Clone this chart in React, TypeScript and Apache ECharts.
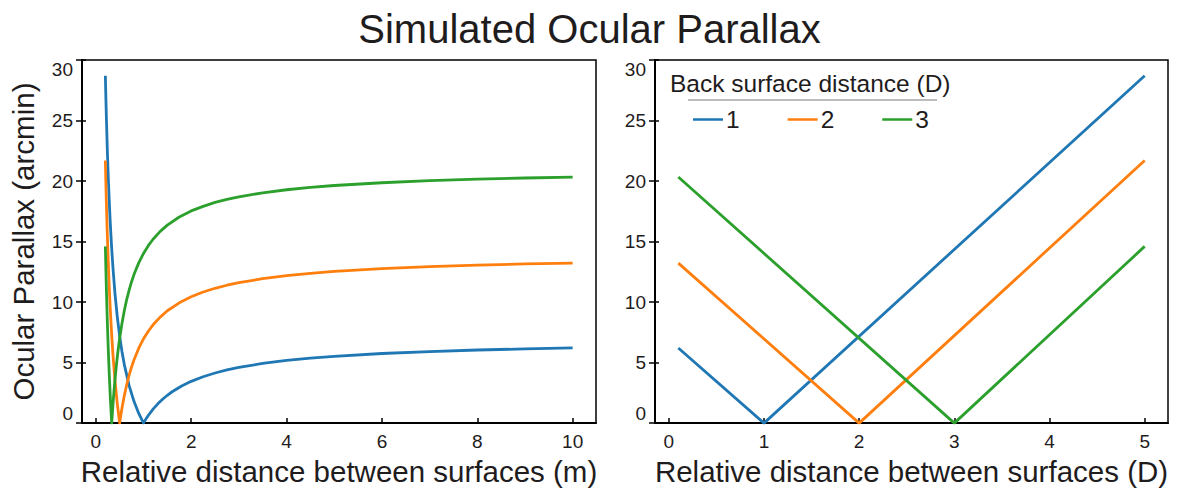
import React, { useEffect, useRef } from "react";
import * as echarts from "echarts";

const FONT = "'Liberation Sans', Arial, Helvetica, sans-serif";
const TEXT = "#1f1c1d";
const COLORS = ["#1f77b4", "#ff7f0e", "#2ca02c"];

const chartTitle = "Simulated Ocular Parallax";
const yAxisTitle = "Ocular Parallax (arcmin)";
const xTitleMeters = "Relative distance between surfaces (m)";
const xTitleDiopters = "Relative distance between surfaces (D)";
const legendTitle = "Back surface distance (D)";
const backSurfaces = ["1", "2", "3"];

const yTicks = [0, 5, 10, 15, 20, 25, 30];
const metersTicks = [0, 2, 4, 6, 8, 10];
const diopterTicks = [0, 1, 2, 3, 4, 5];

// Left panel: parallax (arcmin) vs relative distance in meters
const metersBlue: [number, number][] = [
  [0.2, 28.7], [0.21, 27.0], [0.22, 25.45], [0.24, 22.7], [0.26, 20.4], [0.28, 18.5],
  [0.3, 16.75], [0.33, 14.6], [0.36, 12.8], [0.4, 10.77], [0.45, 8.78], [0.5, 7.18],
  [0.55, 5.87], [0.6, 4.79], [0.7, 3.08], [0.8, 1.8], [0.9, 0.8], [1, 0],
  [1.05, 0.33], [1.1, 0.63], [1.2, 1.15], [1.3, 1.59], [1.4, 1.97], [1.5, 2.3],
  [1.6, 2.59], [1.8, 3.07], [2, 3.45], [2.25, 3.83], [2.5, 4.14], [2.75, 4.39],
  [3, 4.6], [3.5, 4.93], [4, 5.18], [4.5, 5.37], [5, 5.52], [6, 5.75], [7, 5.91],
  [8, 6.04], [9, 6.13], [10, 6.21],
];
const metersOrange: [number, number][] = [
  [0.2, 21.7], [0.21, 19.97], [0.22, 18.4], [0.24, 15.66], [0.26, 13.35], [0.28, 11.36],
  [0.3, 9.64], [0.33, 7.45], [0.36, 5.62], [0.4, 3.62], [0.45, 1.61], [0.5, 0],
  [0.52, 0.54], [0.55, 1.27], [0.6, 2.32], [0.65, 3.21], [0.7, 3.98], [0.75, 4.64],
  [0.8, 5.22], [0.9, 6.19], [1, 6.96], [1.1, 7.59], [1.2, 8.12], [1.35, 8.76],
  [1.5, 9.28], [1.75, 9.94], [2, 10.44], [2.25, 10.83], [2.5, 11.14], [2.75, 11.39],
  [3, 11.6], [3.5, 11.93], [4, 12.18], [4.5, 12.37], [5, 12.53], [6, 12.76],
  [7, 12.93], [8, 13.05], [9, 13.15], [10, 13.22],
];
const metersGreen: [number, number][] = [
  [0.2, 14.6], [0.21, 12.86], [0.22, 11.28], [0.24, 8.52], [0.26, 6.18], [0.28, 4.17],
  [0.3, 2.43], [0.32, 0.91], [0.333, 0], [0.345, 0.71], [0.36, 1.56], [0.38, 2.59],
  [0.4, 3.5], [0.43, 4.73], [0.46, 5.79], [0.5, 7.01], [0.55, 8.28], [0.6, 9.35],
  [0.65, 10.25], [0.7, 11.0], [0.75, 11.68], [0.8, 12.27], [0.9, 13.24], [1, 14.02],
  [1.1, 14.66], [1.2, 15.19], [1.35, 15.84], [1.5, 16.36], [1.75, 17.03], [2, 17.53],
  [2.25, 17.91], [2.5, 18.23], [2.75, 18.48], [3, 18.69], [3.5, 19.03], [4, 19.28],
  [4.5, 19.47], [5, 19.63], [6, 19.86], [7, 20.03], [8, 20.15], [9, 20.25], [10, 20.33],
];

// Right panel: parallax (arcmin) vs relative distance in diopters
const dioptersBlue: [number, number][] = [[0.1, 6.21], [1, 0], [5, 28.7]];
const dioptersOrange: [number, number][] = [[0.1, 13.22], [2, 0], [5, 21.7]];
const dioptersGreen: [number, number][] = [[0.1, 20.33], [3, 0], [5, 14.6]];

export default function App() {
  const ref = useRef<HTMLDivElement>(null);

  useEffect(() => {
    document.body.style.margin = "0";
    const chart = echarts.init(ref.current!, null, { renderer: "svg" });

    const grids = [
      { left: 82, top: 60, width: 514, height: 364 },
      { left: 655, top: 60, width: 513, height: 364 },
    ];

    const xAxisBase = (gridIndex: number, min: number, max: number, ticks: number[], name: string) => ({
      type: "value",
      gridIndex,
      min,
      max,
      name,
      nameLocation: "middle",
      nameGap: 30,
      nameTextStyle: { fontSize: 29.5, color: TEXT, fontFamily: FONT },
      axisLine: { show: true, onZero: false, lineStyle: { color: "#000", width: 2 } },
      axisTick: { show: true, inside: true, length: 5, customValues: ticks, lineStyle: { color: "#000", width: 1.5 } },
      axisLabel: { show: true, customValues: ticks, fontSize: 19, color: TEXT, fontFamily: FONT, margin: 9 },
      splitLine: { show: false },
    });

    const yAxisMain = (gridIndex: number, withName: boolean) => ({
      type: "value",
      gridIndex,
      min: yTicks[0],
      max: yTicks[yTicks.length - 1],
      interval: 5,
      position: "left",
      name: withName ? yAxisTitle : "",
      nameLocation: "middle",
      nameGap: 44,
      nameTextStyle: { fontSize: 29.5, color: TEXT, fontFamily: FONT },
      axisLine: { show: true, onZero: false, lineStyle: { color: "#000", width: 2 } },
      axisTick: { show: true, inside: false, length: 6, lineStyle: { color: "#000", width: 1.5 } },
      axisLabel: {
        show: true,
        fontSize: 19,
        color: TEXT,
        fontFamily: FONT,
        margin: 9,
        verticalAlignMinLabel: "bottom",
        verticalAlignMaxLabel: "top",
      },
      splitLine: { show: false },
    });

    const yAxisInner = (gridIndex: number) => ({
      type: "value",
      gridIndex,
      min: yTicks[0],
      max: yTicks[yTicks.length - 1],
      interval: 5,
      position: "left",
      offset: 0,
      axisLine: { show: false, onZero: false },
      axisTick: { show: true, inside: true, length: 4, lineStyle: { color: "#000", width: 1.5 } },
      axisLabel: { show: false },
      splitLine: { show: false },
    });

    const lineSeries = (name: string, data: [number, number][], color: string, axis: number, yIdx: number) => ({
      type: "line",
      name,
      data,
      xAxisIndex: axis,
      yAxisIndex: yIdx,
      symbol: "none",
      showSymbol: false,
      smooth: false,
      clip: true,
      color,
      lineStyle: { color, width: 2.8, join: "round" },
      emphasis: { disabled: true },
    });

    chart.setOption({
      animation: false,
      backgroundColor: "#ffffff",
      textStyle: { fontFamily: FONT },
      title: {
        text: chartTitle,
        left: "center",
        top: 4,
        textStyle: { fontSize: 40, fontWeight: "normal", color: TEXT, fontFamily: FONT },
      },
      grid: grids.map((g) => ({ ...g, show: true, borderColor: "#000", borderWidth: 1.5, backgroundColor: "transparent" })),
      xAxis: [
        xAxisBase(0, -0.29, 10.49, metersTicks, xTitleMeters),
        xAxisBase(1, -0.145, 5.245, diopterTicks, xTitleDiopters),
      ],
      yAxis: [yAxisMain(0, true), yAxisInner(0), yAxisMain(1, false), yAxisInner(1)],
      legend: {
        data: backSurfaces,
        left: 693,
        top: 107,
        icon: "rect",
        itemWidth: 30,
        itemHeight: 2.5,
        itemGap: 48,
        padding: 0,
        selectedMode: false,
        textStyle: { fontSize: 24.5, color: TEXT, fontFamily: FONT, padding: [0, 0, 0, -2] },
      },
      graphic: [
        {
          type: "text",
          left: 670,
          top: 71,
          style: { text: legendTitle, fontSize: 24.5, fill: TEXT, fontFamily: FONT },
        },
        {
          type: "line",
          shape: { x1: 688, y1: 100, x2: 937, y2: 100 },
          style: { stroke: "#bdbdbd", lineWidth: 2 },
        },
      ],
      series: [
        lineSeries(backSurfaces[0], metersBlue, COLORS[0], 0, 0),
        lineSeries(backSurfaces[1], metersOrange, COLORS[1], 0, 0),
        lineSeries(backSurfaces[2], metersGreen, COLORS[2], 0, 0),
        lineSeries(backSurfaces[0], dioptersBlue, COLORS[0], 1, 2),
        lineSeries(backSurfaces[1], dioptersOrange, COLORS[1], 1, 2),
        lineSeries(backSurfaces[2], dioptersGreen, COLORS[2], 1, 2),
      ],
    });

    return () => chart.dispose();
  }, []);

  return <div ref={ref} style={{ width: 1179, height: 491 }} />;
}
